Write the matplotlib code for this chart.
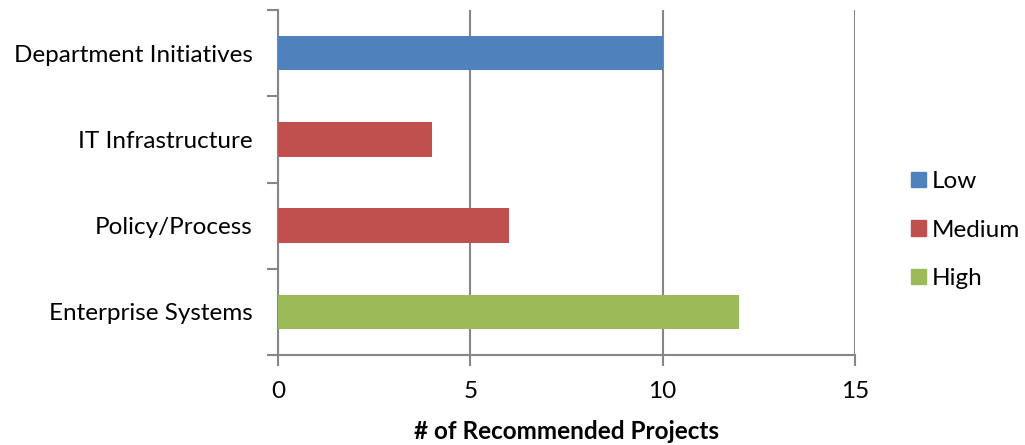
import matplotlib.pyplot as plt
from matplotlib.patches import Patch

categorias = ["Enterprise Systems", "Policy/Process", "IT Infrastructure", "Department Initiatives"]
proyectos = [12, 6, 4, 10]
prioridad = ["High", "Medium", "Medium", "Low"]
colores = {"Low": "#4F81BD", "Medium": "#C0504D", "High": "#9BBB59"}
ticks_x = [0, 5, 10, 15]

plt.rcParams['font.family'] = ['Lato', 'DejaVu Sans']
tam = 17.5

fig = plt.figure(figsize=(10.25, 4.45), dpi=100)
ax = fig.add_axes([0.2712, 0.2022, 0.834 - 0.2712, 0.9775 - 0.2022])

pos = list(range(len(categorias)))
ax.barh(pos, proyectos, height=0.4, color=[colores[p] for p in prioridad], zorder=3)

ax.set_xlim(0, 15)
ax.set_ylim(-0.5, len(categorias) - 0.5)
ax.set_xticks(ticks_x)
ax.set_xticklabels([str(t) for t in ticks_x], fontsize=tam)
ax.set_yticks(pos)
ax.set_yticklabels(categorias, fontsize=tam)
ax.set_yticks([p - 0.5 for p in range(len(categorias) + 1)], minor=True)
ax.tick_params(axis='y', which='major', length=0, pad=18)
ax.tick_params(axis='y', which='minor', length=8, color='#868686', width=1.5)
ax.tick_params(axis='x', length=8, color='#868686', width=1.5, pad=11)

ax.grid(axis='x', color='#868686', linewidth=1.5, zorder=0)
for s in ['top', 'right']:
    ax.spines[s].set_visible(False)
for s in ['left', 'bottom']:
    ax.spines[s].set_color('#868686')
    ax.spines[s].set_linewidth(1.5)
ax.spines['bottom'].set_bounds(-0.25, 15)
ax.spines['bottom'].set_zorder(4)

ax.set_xlabel("# of Recommended Projects", fontsize=tam, fontweight='bold', labelpad=13)

handles = [Patch(color=colores[k]) for k in ["Low", "Medium", "High"]]
fig.legend(handles, ["Low", "Medium", "High"], loc='center left', bbox_to_anchor=(0.889, 0.483),
           frameon=False, fontsize=tam, handlelength=0.6, handleheight=0.6, handletextpad=0.25,
           labelspacing=1.12, borderaxespad=0, borderpad=0)

fig.savefig("out.png", dpi=100)
